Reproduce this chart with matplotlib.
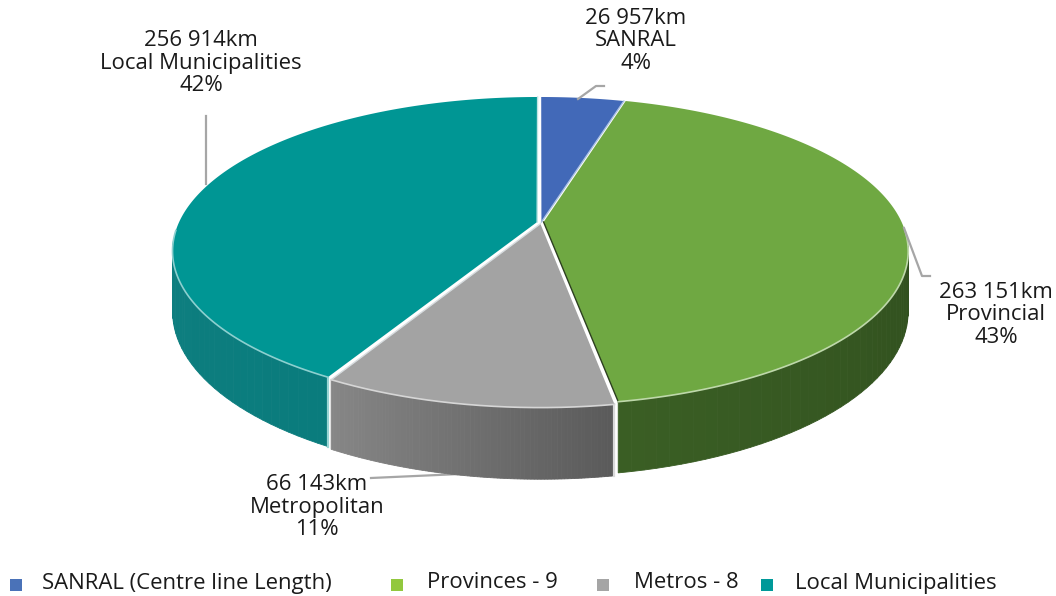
import numpy as np
import matplotlib
matplotlib.use('Agg')
import matplotlib.pyplot as plt
from matplotlib.patches import Polygon

plt.rcParams['font.family'] = ['Open Sans', 'DejaVu Sans']

names = ['SANRAL', 'Provincial', 'Metropolitan', 'Local Municipalities']
lengths = [26957, 263151, 66143, 256914]
length_labels = ['26 957km', '263 151km', '66 143km', '256 914km']
percents = ['4%', '43%', '11%', '42%']
legend_names = ['SANRAL (Centre line Length)', 'Provinces - 9', 'Metros - 8', 'Local Municipalities']

top_colors = ['#4269b8', '#6fa842', '#a3a3a3', '#009694']
legend_colors = ['#4a72b8', '#92c83e', '#a5a5a5', '#009999']
# wall colours, start of slice -> end of slice
wall_from = ['#2f4c85', '#263f18', '#5a5a5a', '#0a7c7d']
wall_to = ['#2f4c85', '#3a5e24', '#868686', '#168384']

# fake perspective for the disc
cx, cy = 540, 222
R, H, k, depth = 358, 148.5, 0.188, 58
# small pull-out of each slice
nudge_u = [0.004, 0.010, 0.001, -0.008]
nudge_v = [0.0, 0.0, -0.012, 0.0]


def project(u, v, drop=0.0):
    s = 1 / (1 + k * v)
    return cx + R * u * s, cy - H * v * s + drop * s


def rim(a, off_u, off_v, drop=0.0):
    return project(np.sin(a) + off_u, np.cos(a) + off_v, drop)


def to_rgb(c):
    return np.array(matplotlib.colors.to_rgb(c))


def lighter(c, t):
    return to_rgb(c) * (1 - t) + t


fig = plt.figure(figsize=(10.56, 5.96), dpi=100)
ax = fig.add_axes([0, 0, 1, 1])
ax.set_xlim(0, 1056)
ax.set_ylim(596, 0)
ax.axis('off')

edges = 2 * np.pi * np.concatenate([[0], np.cumsum(lengths)]) / sum(lengths)

# walls first, tops paint over the rest
for i in range(4):
    a0, a1 = edges[i], edges[i + 1]
    ou, ov = nudge_u[i], nudge_v[i]
    aa = np.linspace(a0, a1, 90)
    for j in range(len(aa) - 1):
        if np.cos(aa[j]) > -0.12 and np.cos(aa[j + 1]) > -0.12:
            continue
        t = j / (len(aa) - 2)
        col = to_rgb(wall_from[i]) * (1 - t) + to_rgb(wall_to[i]) * t
        x0, y0 = rim(aa[j], ou, ov)
        x1, y1 = rim(aa[j + 1], ou, ov)
        x2, y2 = rim(aa[j + 1], ou, ov, depth)
        x3, y3 = rim(aa[j], ou, ov, depth)
        ax.add_patch(Polygon([(x0, y0), (x1, y1), (x2, y2), (x3, y3)], closed=True,
                             facecolor=col, edgecolor=col, lw=0.6, zorder=2))

# light seams between walls
for i, a in [(2, edges[2]), (3, edges[3])]:
    x0, y0 = rim(a, nudge_u[i], nudge_v[i])
    x1, y1 = rim(a, nudge_u[i], nudge_v[i], depth)
    ax.plot([x0, x1], [y0, y1], color=lighter(top_colors[i], 0.6), lw=1.6, zorder=3)

edge_colors = ['#a9c0e4', '#2d4020', '#d8dde0', '#bfe5e4']
for i in range(4):
    a0, a1 = edges[i], edges[i + 1]
    ou, ov = nudge_u[i], nudge_v[i]
    aa = np.linspace(a0, a1, 200)
    xs, ys = rim(aa, ou, ov)
    apex = project(ou, ov)
    pts = [apex] + list(zip(xs, ys))
    ax.add_patch(Polygon(pts, closed=True, facecolor=top_colors[i], edgecolor='none', zorder=4))
    ax.plot([apex[0], xs[-1]], [apex[1], ys[-1]], color=edge_colors[i], lw=1.0, zorder=5)
    front = np.cos(aa) < -0.05
    if front.any():
        ax.plot(xs[front], ys[front], color=lighter(top_colors[i], 0.55), lw=1.2, zorder=5)

# leader lines
leader = '#a6a6a6'
ax.plot([578, 596, 604], [99, 86, 86], color=leader, lw=1.6, zorder=6)
ax.plot([904, 922, 930], [228, 276, 276], color=leader, lw=1.6, zorder=6)
ax.plot([371, 460], [478, 474], color=leader, lw=1.6, zorder=1)
ax.plot([206, 206], [116, 184], color=leader, lw=1.6, zorder=6)

label_pos = [(636, 41), (996, 315), (317, 507), (201, 63)]
for i in range(4):
    ax.text(label_pos[i][0], label_pos[i][1],
            length_labels[i] + '\n' + names[i] + '\n' + percents[i],
            ha='center', va='center', fontsize=15.9, color='#1a1a1a',
            linespacing=1.07, zorder=7)

square_x = [16, 397, 603, 767]
text_x = [42, 427, 634, 795]
for i in range(4):
    ax.scatter([square_x[i]], [585], marker='s', s=72, color=legend_colors[i], linewidths=0, zorder=7)
    ax.text(text_x[i], 583, legend_names[i], ha='left', va='center', fontsize=15.9, color='#1a1a1a')

fig.savefig('out.png', dpi=100)
